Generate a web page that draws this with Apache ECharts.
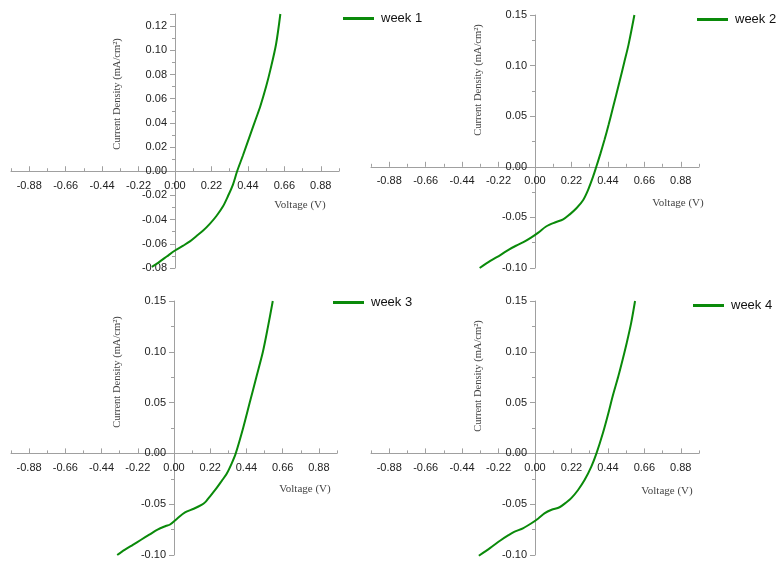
<!DOCTYPE html>
<html>
<head>
<meta charset="utf-8">
<script src="https://cdn.jsdelivr.net/npm/echarts@6.0.0/dist/echarts.min.js"></script>
<style>
  html, body { margin: 0; padding: 0; background: #fff; }
  #main { width: 780px; height: 561px; }
</style>
</head>
<body>
<div id="main"></div>
<script>
// J-V curves, voltage (V) vs current density (mA/cm2)
var week1V = [-0.14, -0.10, -0.05, 0.00, 0.05, 0.09, 0.13, 0.17, 0.21, 0.25, 0.29, 0.32, 0.35, 0.375, 0.41, 0.455, 0.49, 0.515, 0.55, 0.576, 0.61, 0.636];
var week1J = [-0.079, -0.0755, -0.0705, -0.0655, -0.0615, -0.058, -0.0535, -0.049, -0.0435, -0.037, -0.029, -0.0205, -0.011, 0.000, 0.013, 0.0305, 0.044, 0.0537, 0.070, 0.084, 0.105, 0.130];

var week2V = [-0.334, -0.27, -0.207, -0.16, -0.115, -0.07, -0.024, 0.02, 0.067, 0.12, 0.17, 0.21, 0.25, 0.29, 0.32, 0.35, 0.37, 0.395, 0.42, 0.445, 0.47, 0.51, 0.54, 0.565, 0.60];
var week2J = [-0.100, -0.093, -0.087, -0.082, -0.078, -0.0745, -0.070, -0.065, -0.059, -0.055, -0.052, -0.047, -0.041, -0.033, -0.023, -0.010, 0.000, 0.013, 0.027, 0.042, 0.058, 0.084, 0.104, 0.121, 0.150];

var week3V = [-0.345, -0.30, -0.25, -0.20, -0.15, -0.10, -0.05, -0.024, 0.02, 0.067, 0.12, 0.17, 0.19, 0.21, 0.25, 0.29, 0.32, 0.35, 0.375, 0.42, 0.46, 0.50, 0.54, 0.57, 0.60];
var week3J = [-0.100, -0.095, -0.090, -0.085, -0.080, -0.075, -0.0715, -0.070, -0.064, -0.058, -0.0545, -0.0505, -0.048, -0.044, -0.036, -0.027, -0.020, -0.010, 0.000, 0.025, 0.050, 0.075, 0.100, 0.124, 0.150];

var week4V = [-0.339, -0.27, -0.207, -0.16, -0.126, -0.07, -0.024, 0.02, 0.057, 0.10, 0.148, 0.19, 0.219, 0.26, 0.30, 0.34, 0.371, 0.41, 0.442, 0.47, 0.503, 0.53, 0.554, 0.58, 0.604];
var week4J = [-0.1007, -0.093, -0.0855, -0.0805, -0.0773, -0.0735, -0.069, -0.064, -0.059, -0.0555, -0.053, -0.048, -0.044, -0.036, -0.026, -0.013, 0.000, 0.020, 0.039, 0.057, 0.076, 0.093, 0.109, 0.128, 0.150];

var seriesNames = ['week 1', 'week 2', 'week 3', 'week 4'];
var voltageTicks = [-0.88, -0.66, -0.44, -0.22, 0.00, 0.22, 0.44, 0.66, 0.88];
var voltageMinorTicks = [-0.99, -0.77, -0.55, -0.33, -0.11, 0.11, 0.33, 0.55, 0.77, 0.99];
var week1YTicks = [-0.08, -0.06, -0.04, -0.02, 0.00, 0.02, 0.04, 0.06, 0.08, 0.10, 0.12];
var otherYTicks = [-0.10, -0.05, 0.00, 0.05, 0.10, 0.15];

var xMin = -0.99, xMax = 0.99;
var green = '#0a8a0a';
var axisGrey = '#a0a0a0';
var sans = 'Liberation Sans, Arial, sans-serif';
var serif = 'Liberation Serif, Times New Roman, serif';

// panel boxes in px
var panels = [
  { V: week1V, J: week1J, box: [11, 14, 328, 254], yMin: -0.08, yMax: 0.13, yStep: 0.02, yTicks: week1YTicks,
    yName: [117, 94], xName: [300, 205], legend: [343, 12] },
  { V: week2V, J: week2J, box: [371, 15, 328, 253], yMin: -0.10, yMax: 0.15, yStep: 0.05, yTicks: otherYTicks,
    yName: [478, 80], xName: [678, 203], legend: [697, 13] },
  { V: week3V, J: week3J, box: [11, 301, 326, 254], yMin: -0.10, yMax: 0.15, yStep: 0.05, yTicks: otherYTicks,
    yName: [117, 372], xName: [305, 489], legend: [333, 296] },
  { V: week4V, J: week4J, box: [371, 301, 328, 254], yMin: -0.10, yMax: 0.15, yStep: 0.05, yTicks: otherYTicks,
    yName: [478, 376], xName: [667, 491], legend: [693, 299] }
];

var option = {
  backgroundColor: '#fff',
  animation: false,
  grid: [], xAxis: [], yAxis: [], series: [], legend: [], graphic: []
};

panels.forEach(function (p, i) {
  var w = p.box[2], h = p.box[3];
  var xOffset = -h * (0 - p.yMin) / (p.yMax - p.yMin);
  option.grid.push({ left: p.box[0], top: p.box[1], width: w, height: h,
    containLabel: false, outerBoundsMode: 'none' });

  // onZero keeps labels at the grid edge, so shift the whole axis onto zero instead
  option.xAxis.push({
    type: 'value', gridIndex: i, min: xMin, max: xMax, interval: 0.11, position: 'bottom',
    offset: xOffset,
    axisLine: { onZero: false, lineStyle: { color: axisGrey, width: 1 } },
    axisTick: { show: true, inside: true, length: 5, customValues: voltageTicks, lineStyle: { color: axisGrey } },
    axisLabel: { customValues: voltageTicks, margin: 9, color: '#222', fontFamily: sans, fontSize: 11,
      formatter: function (v) { return v.toFixed(2); } },
    splitLine: { show: false }
  });
  // minor ticks
  option.xAxis.push({
    type: 'value', gridIndex: i, min: xMin, max: xMax, interval: 0.11, position: 'bottom',
    offset: xOffset,
    axisLine: { show: false, onZero: false },
    axisTick: { show: true, inside: true, length: 3, customValues: voltageMinorTicks, lineStyle: { color: axisGrey } },
    axisLabel: { show: false },
    splitLine: { show: false }
  });

  option.yAxis.push({
    type: 'value', gridIndex: i, min: p.yMin, max: p.yMax, interval: p.yStep,
    offset: -w * (0 - xMin) / (xMax - xMin),
    axisLine: { onZero: false, lineStyle: { color: axisGrey, width: 1 } },
    axisTick: { show: true, length: 5, lineStyle: { color: axisGrey } },
    minorTick: { show: true, splitNumber: 2, length: 3, lineStyle: { color: axisGrey } },
    axisLabel: { customValues: p.yTicks, margin: 8, color: '#222', fontFamily: sans, fontSize: 11,
      formatter: function (v) { return v.toFixed(2); } },
    splitLine: { show: false }
  });

  option.series.push({
    name: seriesNames[i], type: 'line', xAxisIndex: 2 * i, yAxisIndex: i,
    data: p.V.map(function (v, k) { return [v, p.J[k]]; }),
    smooth: 0.3, showSymbol: false, clip: false,
    lineStyle: { color: green, width: 2 }, itemStyle: { color: green }
  });

  option.legend.push({
    data: [seriesNames[i]], left: p.legend[0], top: p.legend[1],
    icon: 'rect', itemWidth: 31, itemHeight: 3, itemGap: 5, padding: 0,
    textStyle: { color: '#111', fontFamily: sans, fontSize: 13, padding: [0, 0, 0, 2] }
  });

  option.graphic.push({
    type: 'text', x: p.yName[0], y: p.yName[1], rotation: Math.PI / 2,
    style: { text: 'Current Density (mA/cm²)', align: 'center', verticalAlign: 'middle',
      fill: '#444', font: '10.5px ' + serif }
  });
  option.graphic.push({
    type: 'text', x: p.xName[0], y: p.xName[1],
    style: { text: 'Voltage (V)', align: 'center', verticalAlign: 'middle',
      fill: '#444', font: '11px ' + serif }
  });
});

var myChart = echarts.init(document.getElementById('main'), null, { renderer: 'canvas' });
myChart.setOption(option);
</script>
</body>
</html>
